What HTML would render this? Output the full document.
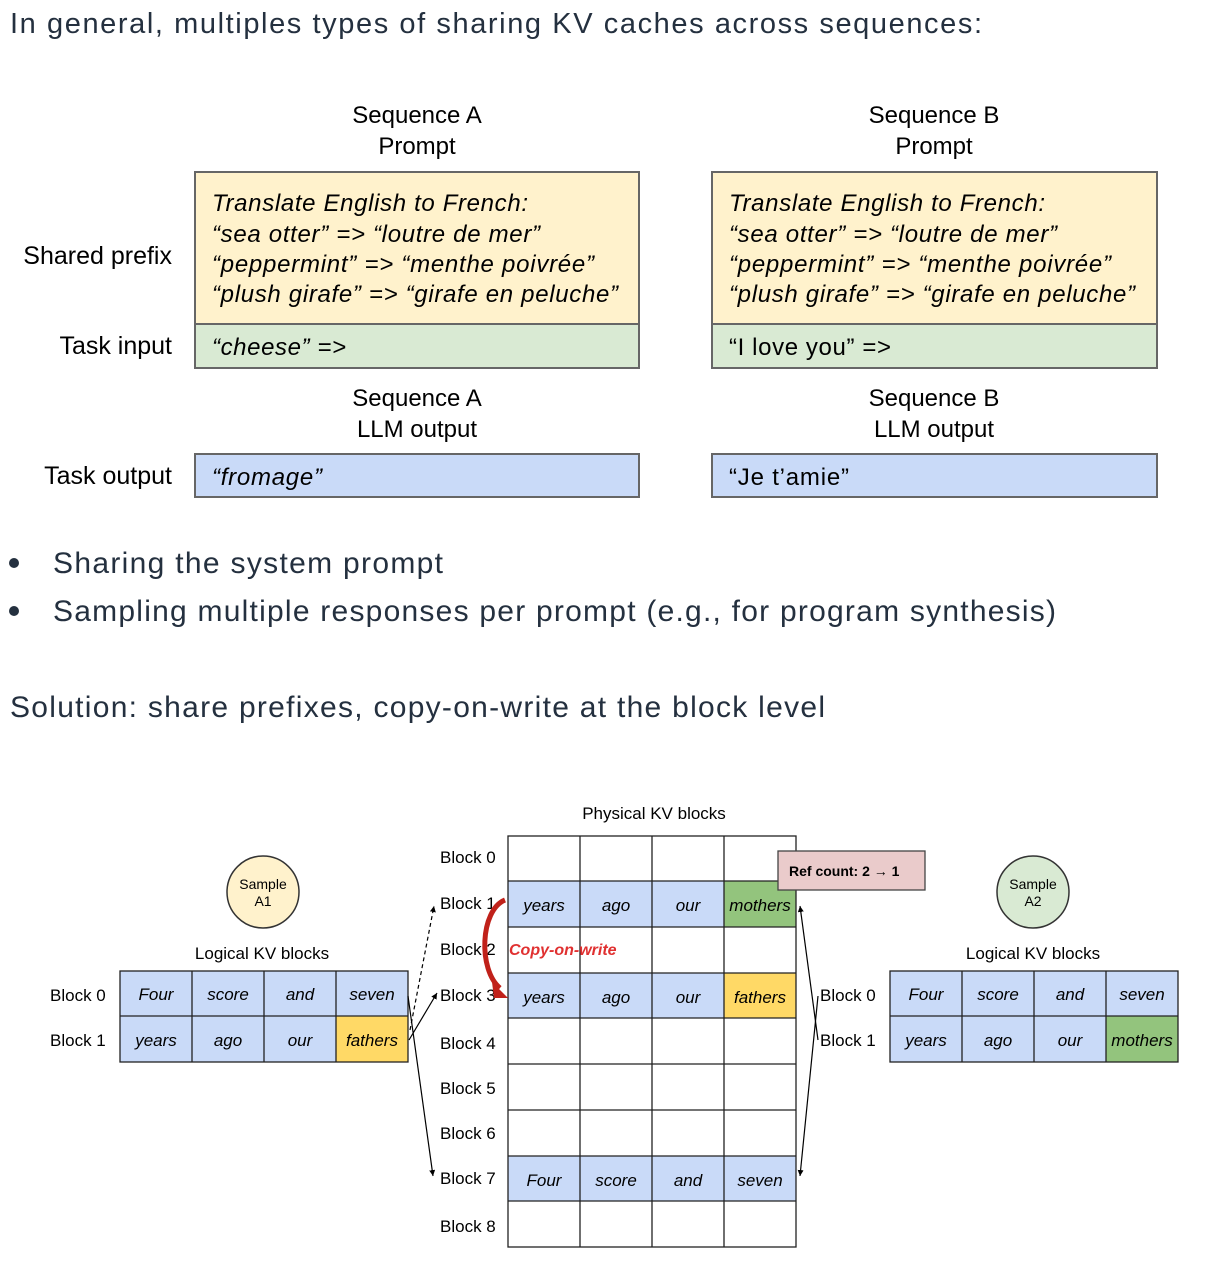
<!DOCTYPE html>
<html><head><meta charset="utf-8"><style>
html,body{margin:0;padding:0;background:#fff;}
svg{display:block;}
text{font-family:"Liberation Sans",Arial,sans-serif;}
</style></head><body>
<svg width="1210" height="1276" viewBox="0 0 1210 1276" xmlns="http://www.w3.org/2000/svg">
<defs>
<marker id="ah" markerWidth="8" markerHeight="8" refX="6" refY="3" orient="auto" markerUnits="userSpaceOnUse"><path d="M0,0 L6,3 L0,6 z" fill="#000"/></marker>
</defs>
<g fill="#24303f">
<text x="10" y="33" font-size="29" textLength="972">In general, multiples types of sharing KV caches across sequences:</text>
<circle cx="14" cy="563" r="5"/>
<text x="53" y="573" font-size="30" textLength="390">Sharing the system prompt</text>
<circle cx="14" cy="611" r="5"/>
<text x="53" y="621" font-size="30" textLength="1003">Sampling multiple responses per prompt (e.g., for program synthesis)</text>
<text x="10" y="717" font-size="30" textLength="815">Solution: share prefixes, copy-on-write at the block level</text>
</g>

<g font-size="24" fill="#000">
<text x="417" y="123" text-anchor="middle">Sequence A</text>
<text x="417" y="154" text-anchor="middle">Prompt</text>
<text x="934" y="123" text-anchor="middle">Sequence B</text>
<text x="934" y="154" text-anchor="middle">Prompt</text>
<text x="417" y="406" text-anchor="middle">Sequence A</text>
<text x="417" y="437" text-anchor="middle">LLM output</text>
<text x="934" y="406" text-anchor="middle">Sequence B</text>
<text x="934" y="437" text-anchor="middle">LLM output</text>
</g>
<g font-size="25" fill="#000">
<text x="172" y="264" text-anchor="end">Shared prefix</text>
<text x="172" y="354" text-anchor="end">Task input</text>
<text x="172" y="484" text-anchor="end">Task output</text>
</g>
<g stroke="#666" stroke-width="2">
<rect x="195" y="172" width="444" height="152" fill="#fff2cc"/>
<rect x="195" y="324" width="444" height="44" fill="#d9ead3"/>
<rect x="195" y="454" width="444" height="43" fill="#c9daf8"/>
<rect x="712" y="172" width="445" height="152" fill="#fff2cc"/>
<rect x="712" y="324" width="445" height="44" fill="#d9ead3"/>
<rect x="712" y="454" width="445" height="43" fill="#c9daf8"/>
</g>
<g font-size="24" font-style="italic" fill="#000">
<text x="212" y="211" textLength="316">Translate English to French:</text>
<text x="212" y="242" textLength="328">“sea otter” =&gt; “loutre de mer”</text>
<text x="212" y="272" textLength="382">“peppermint” =&gt; “menthe poivrée”</text>
<text x="212" y="302" textLength="406">“plush girafe” =&gt; “girafe en peluche”</text>
<text x="212" y="355" textLength="134">“cheese” =&gt;</text>
<text x="212" y="485" textLength="110">“fromage”</text>
<text x="729" y="211" textLength="316">Translate English to French:</text>
<text x="729" y="242" textLength="328">“sea otter” =&gt; “loutre de mer”</text>
<text x="729" y="272" textLength="382">“peppermint” =&gt; “menthe poivrée”</text>
<text x="729" y="302" textLength="406">“plush girafe” =&gt; “girafe en peluche”</text>
</g>
<g font-size="24" fill="#000">
<text x="729" y="355" textLength="162">“I love you” =&gt;</text>
<text x="729" y="485" textLength="120">“Je t’amie”</text>
</g>

<g font-size="17" fill="#000">
<text x="654" y="819" text-anchor="middle">Physical KV blocks</text>
<text x="440" y="863">Block 0</text>
<text x="440" y="909">Block 1</text>
<text x="440" y="955">Block 2</text>
<text x="440" y="1001">Block 3</text>
<text x="440" y="1049">Block 4</text>
<text x="440" y="1094">Block 5</text>
<text x="440" y="1139">Block 6</text>
<text x="440" y="1184">Block 7</text>
<text x="440" y="1232">Block 8</text>
<text x="262" y="959" text-anchor="middle">Logical KV blocks</text>
<text x="1033" y="959" text-anchor="middle">Logical KV blocks</text>
<text x="50" y="1001">Block 0</text>
<text x="50" y="1046">Block 1</text>
<text x="820" y="1001">Block 0</text>
<text x="820" y="1046">Block 1</text>
</g>
<circle cx="263" cy="892" r="36" fill="#fff2cc" stroke="#333" stroke-width="1.5"/>
<text x="263" y="889" font-size="14" text-anchor="middle">Sample</text>
<text x="263" y="906" font-size="14" text-anchor="middle">A1</text>
<circle cx="1033" cy="892" r="36" fill="#d9ead3" stroke="#333" stroke-width="1.5"/>
<text x="1033" y="889" font-size="14" text-anchor="middle">Sample</text>
<text x="1033" y="906" font-size="14" text-anchor="middle">A2</text>

<rect x="508" y="881" width="216" height="46" fill="#c9daf8"/>
<rect x="724" y="881" width="72" height="46" fill="#93c47d"/>
<rect x="508" y="973" width="216" height="45" fill="#c9daf8"/>
<rect x="724" y="973" width="72" height="45" fill="#ffd966"/>
<rect x="508" y="1156" width="288" height="45" fill="#c9daf8"/>
<g stroke="#222" stroke-width="1.3" fill="none">
<rect x="508" y="836" width="288" height="411"/>
<line x1="580" y1="836" x2="580" y2="1247"/><line x1="652" y1="836" x2="652" y2="1247"/><line x1="724" y1="836" x2="724" y2="1247"/>
<line x1="508" y1="881" x2="796" y2="881"/><line x1="508" y1="927" x2="796" y2="927"/><line x1="508" y1="973" x2="796" y2="973"/>
<line x1="508" y1="1018" x2="796" y2="1018"/><line x1="508" y1="1064" x2="796" y2="1064"/><line x1="508" y1="1110" x2="796" y2="1110"/>
<line x1="508" y1="1156" x2="796" y2="1156"/><line x1="508" y1="1201" x2="796" y2="1201"/>
</g>
<g font-size="17" font-style="italic" fill="#000" text-anchor="middle">
<text x="544" y="911">years</text><text x="616" y="911">ago</text><text x="688" y="911">our</text><text x="760" y="911">mothers</text>
<text x="544" y="1003">years</text><text x="616" y="1003">ago</text><text x="688" y="1003">our</text><text x="760" y="1003">fathers</text>
<text x="544" y="1186">Four</text><text x="616" y="1186">score</text><text x="688" y="1186">and</text><text x="760" y="1186">seven</text>
</g>
<text x="509" y="955" font-size="16" font-weight="bold" font-style="italic" fill="#e03030">Copy-on-write</text>
<path d="M505,900 C480,910 478,970 500,988" stroke="#c0211a" stroke-width="5" fill="none"/>
<path d="M492,982 L508,998 L494,998 z" fill="#c0211a"/>

<rect x="120" y="971" width="288" height="91" fill="#c9daf8"/>
<rect x="336" y="1016" width="72" height="46" fill="#ffd966"/>
<g stroke="#222" stroke-width="1.3" fill="none">
<rect x="120" y="971" width="288" height="91"/>
<line x1="192" y1="971" x2="192" y2="1062"/><line x1="264" y1="971" x2="264" y2="1062"/><line x1="336" y1="971" x2="336" y2="1062"/>
<line x1="120" y1="1016" x2="408" y2="1016"/>
</g>
<rect x="890" y="971" width="288" height="91" fill="#c9daf8"/>
<rect x="1106" y="1016" width="72" height="46" fill="#93c47d"/>
<g stroke="#222" stroke-width="1.3" fill="none">
<rect x="890" y="971" width="288" height="91"/>
<line x1="962" y1="971" x2="962" y2="1062"/><line x1="1034" y1="971" x2="1034" y2="1062"/><line x1="1106" y1="971" x2="1106" y2="1062"/>
<line x1="890" y1="1016" x2="1178" y2="1016"/>
</g>
<g font-size="17" font-style="italic" fill="#000" text-anchor="middle">
<text x="156" y="1000">Four</text><text x="228" y="1000">score</text><text x="300" y="1000">and</text><text x="372" y="1000">seven</text>
<text x="156" y="1046">years</text><text x="228" y="1046">ago</text><text x="300" y="1046">our</text><text x="372" y="1046">fathers</text>
<text x="926" y="1000">Four</text><text x="998" y="1000">score</text><text x="1070" y="1000">and</text><text x="1142" y="1000">seven</text>
<text x="926" y="1046">years</text><text x="998" y="1046">ago</text><text x="1070" y="1046">our</text><text x="1142" y="1046">mothers</text>
</g>

<rect x="778" y="851" width="147" height="39" fill="#eacbcb" stroke="#444" stroke-width="1.3"/>
<text x="789" y="876" font-size="14" font-weight="bold">Ref count: 2 → 1</text>

<g stroke="#000" stroke-width="1.2" fill="none">
<line x1="408" y1="996" x2="433" y2="1176" marker-end="url(#ah)"/>
<line x1="409" y1="1040" x2="437" y2="993" marker-end="url(#ah)"/>
<line x1="410" y1="1030" x2="434" y2="906" stroke-dasharray="4,3" marker-end="url(#ah)"/>
<line x1="818" y1="1040" x2="800" y2="906" marker-end="url(#ah)"/>
<line x1="818" y1="996" x2="800" y2="1176" marker-end="url(#ah)"/>
</g>
</svg>
</body></html>
